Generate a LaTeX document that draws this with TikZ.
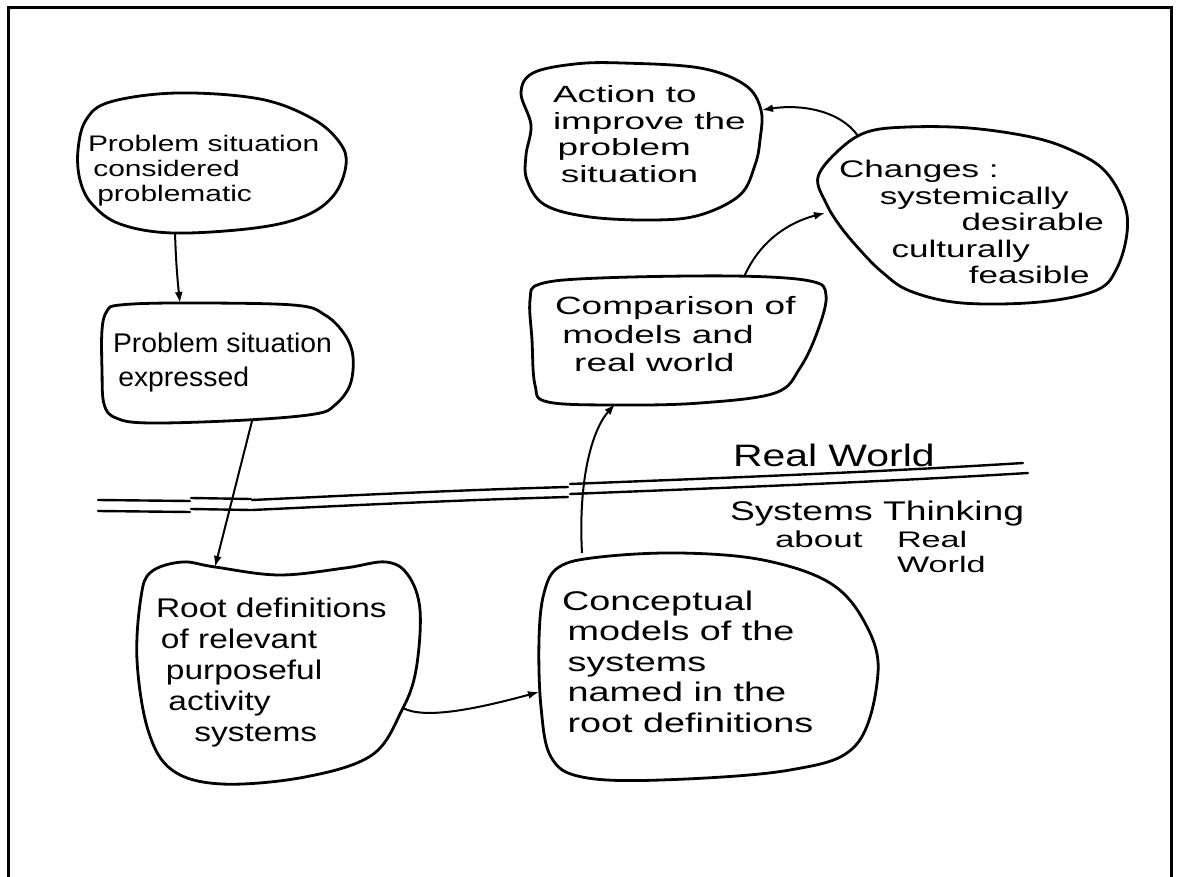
\documentclass[tikz,border=0pt]{standalone}
\usepackage{fontspec}
\setmainfont{Liberation Sans}
\usepackage{graphicx}
\usetikzlibrary{arrows.meta}

% handwritten-style text block: horizontal stretch, size, line skip, lines as \hbox{...}
\newcommand\handblock[4]{%
  \scalebox{#1}[1]{\fontsize{#2}{#3}\selectfont
    \vtop{\baselineskip=#3pt\lineskiplimit=-\maxdimen\lineskip=0pt #4}}}

\begin{document}
\begin{tikzpicture}[x=1pt,y=-1pt,
  blob/.style={line width=2.8pt, line join=round},
  conn/.style={line width=2pt, -{Latex[length=11pt,width=8pt]}},
  rule/.style={line width=2.4pt, line cap=round},
  txt/.style={anchor=base west, inner sep=0pt, outer sep=0pt}]

\fill[white] (0,0) rectangle (1179,877);
\useasboundingbox (0,0) rectangle (1179,877);

% page frame
\draw[line width=3pt] (8,877) -- (8,8) -- (1171,8) -- (1171,877);

% ---- blobs ----
% problem situation considered problematic
\draw[blob] plot[smooth cycle, tension=0.6] coordinates {
  (78,150) (86,120) (110,102) (177,93) (260,99) (313,119) (340,143)
  (346,165) (334,195) (305,216) (255,228) (173,233) (120,224) (92,204) (80,180)};
% problem situation expressed
\draw[blob] plot[smooth cycle, tension=0.6] coordinates {
  (102,330) (107,311) (120,305) (180,303) (293,305) (325,315) (345,335)
  (353,357) (350,385) (335,405) (315,414) (247,420) (150,423) (116,418) (104,404) (102,370)};
% root definitions
\draw[blob] plot[smooth cycle, tension=0.6] coordinates {
  (141,597) (151,572) (182,562) (215,567) (279,575) (345,568) (386,562)
  (408,575) (420,610) (416,670) (402,710) (372,755) (305,777) (222,784)
  (172,770) (148,730) (137,660)};
% conceptual models
\draw[blob] plot[smooth cycle, tension=0.6] coordinates {
  (544,593) (559,567) (600,557) (680,553) (763,560) (830,583) (865,623)
  (878,673) (856,745) (790,770) (661,780) (582,777) (551,757) (541,707) (539,640)};
% comparison
\draw[blob] plot[smooth cycle, tension=0.6] coordinates {
  (530,300) (540,284) (600,278) (733,276) (810,281) (826,295) (818,330)
  (800,368) (775,393) (700,403) (620,405) (548,402) (535,385) (532,340)};
% action
\draw[blob] plot[smooth cycle, tension=0.6] coordinates {
  (521,93) (533,73) (575,64) (622,63) (700,68) (745,85) (761,110) (760,140)
  (755,165) (740,195) (700,215) (655,220) (590,217) (545,205) (527,180)
  (526,155) (531,125)};
% changes
\draw[blob] plot[smooth cycle, tension=0.6] coordinates {
  (818,177) (839,150) (867,132) (908,127) (969,128) (1031,137) (1071,150)
  (1104,170) (1124,203) (1127,233) (1117,268) (1097,290) (1040,302)
  (962,303) (910,291) (882,272) (860,250) (840,226) (826,203)};

% ---- texts ----
\node[txt] (tprob) at (88,152) {\handblock{1.33}{22.5}{25}{%
  \hbox{Problem situation}\hbox{\hspace*{4pt}considered}\hbox{\hspace*{7pt}problematic}}};
\node[txt] (texpr) at (113,353) {\handblock{1.05}{27}{34}{%
  \hbox{Problem situation}\hbox{\hspace*{5pt}expressed}}};
\node[txt] (troot) at (156,617) {\handblock{1.24}{27}{31}{%
  \hbox{Root definitions}\hbox{\hspace*{4pt}of relevant}\hbox{\hspace*{8pt}purposeful}%
  \hbox{\hspace*{10pt}activity}\hbox{\hspace*{31pt}systems}}};
\node[txt] (tconc) at (562,610) {\handblock{1.4}{27}{30.5}{%
  \hbox{Conceptual}\hbox{\hspace*{4pt}models of the}\hbox{\hspace*{4pt}systems}%
  \hbox{\hspace*{4pt}named in the}\hbox{\hspace*{4pt}root definitions}}};
\node[txt] (tcomp) at (555,315) {\handblock{1.48}{25}{28.5}{%
  \hbox{Comparison of}\hbox{\hspace*{5pt}models and}\hbox{\hspace*{13pt}real world}}};
\node[txt] (tact) at (553,103) {\handblock{1.57}{23.5}{26.5}{%
  \hbox{Action to}\hbox{improve the}\hbox{\hspace*{3pt}problem}\hbox{\hspace*{5pt}situation}}};
\node[txt] (tchg) at (839,178) {\handblock{1.46}{24}{26.5}{%
  \hbox{Changes :}\hbox{\hspace*{28pt}systemically}\hbox{\hspace*{84pt}desirable}%
  \hbox{\hspace*{36pt}culturally}\hbox{\hspace*{89pt}feasible}}};

% boundary labels
\node[txt] (lreal) at (733,467) {\handblock{1.32}{31}{31}{\hbox{Real World}}};
\node[txt] (lsys) at (730,520) {\handblock{1.38}{27}{27}{\hbox{Systems Thinking}}};
\node[txt] (labout) at (775,547) {\handblock{1.52}{23}{23}{\hbox{about}}};
\node[txt] (lrw) at (897,547) {\handblock{1.52}{22.5}{25}{\hbox{Real}\hbox{World}}};

% ---- boundary between real world and systems thinking ----
\draw[rule] (98,500) -- (190,501);
\draw[rule] (98,511) -- (190,512);
\draw[rule] (191,498) -- (251,499);
\draw[rule] (191,509) -- (251,510);
\draw[rule] (252,500) .. controls (360,495) and (460,490) .. (568,487);
\draw[rule] (252,510) .. controls (360,505) and (460,500) .. (568,497);
\draw[rule] (570,484) .. controls (720,478) and (880,472) .. (1023,463);
\draw[rule] (570,494) .. controls (720,488) and (880,482) .. (1028,473);

% ---- connector end points on the blob outlines ----
\coordinate (probOut) at (175,233);
\coordinate (exprIn)  at (180,303);
\coordinate (exprOut) at (252,421);
\coordinate (rootIn)  at (215,567);
\coordinate (rootOut) at (403,708);
\coordinate (concIn)  at (539,692);
\coordinate (concOut) at (582,553);
\coordinate (compIn)  at (615,404);
\coordinate (compOut) at (744,277);
\coordinate (chgIn)   at (825,213);
\coordinate (chgOut)  at (858,136);
\coordinate (actIn)   at (762,110);

% ---- connectors ----
\draw[conn] (probOut) .. controls (176,265) and (178,285) .. (exprIn);
\draw[conn] (exprOut) -- (rootIn);
\draw[conn] (rootOut) .. controls (425,720) and (480,708) .. (concIn);
\draw[conn] (concOut) .. controls (578,480) and (592,430) .. (compIn);
\draw[conn] (compOut) .. controls (760,240) and (790,222) .. (chgIn);
\draw[conn] (chgOut) .. controls (840,110) and (800,104) .. (actIn);

\end{tikzpicture}
\end{document}
